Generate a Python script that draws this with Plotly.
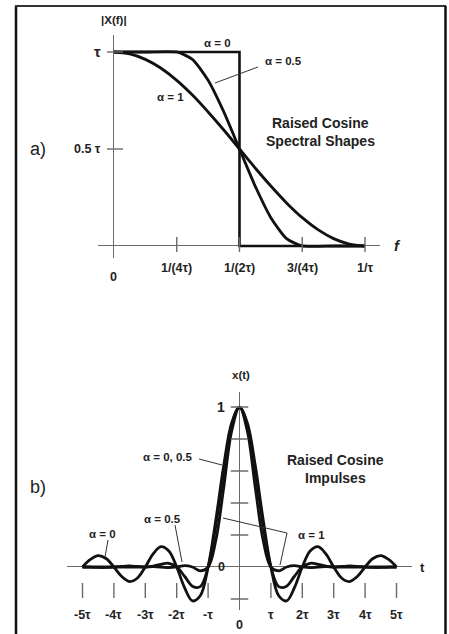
import plotly.graph_objects as go

# ---------------- data: panel a) spectra (f in units of 1/tau, |X(f)| in units of tau)
f_a0 = [0, 0.5, 0.5, 1.0]
X_a0 = [1, 1, 0, 0]

f_a05 = [0, 0.125, 0.25, 0.3125, 0.375, 0.4375, 0.5, 0.5625, 0.625, 0.6875, 0.75, 0.875, 1.0]
X_a05 = [1, 1, 1, 0.962, 0.854, 0.691, 0.5, 0.309, 0.146, 0.038, 0, 0, 0]

f_a1 = [0, 0.0625, 0.125, 0.1875, 0.25, 0.3125, 0.375, 0.4375, 0.5,
        0.5625, 0.625, 0.6875, 0.75, 0.8125, 0.875, 0.9375, 1.0]
X_a1 = [1, 0.990, 0.962, 0.916, 0.854, 0.778, 0.691, 0.598, 0.5,
        0.402, 0.309, 0.222, 0.146, 0.084, 0.038, 0.010, 0]

f_ticks = [0.25, 0.5, 0.75, 1.0]
f_tick_labels = ["1/(4τ)", "1/(2τ)", "3/(4τ)", "1/τ"]
X_ticks = [0.5, 1.0]
X_tick_labels = ["0.5 τ", "τ"]

# ---------------- data: panel b) impulses (t in units of tau)
t_vals = [-5, -4.75, -4.5, -4.25, -4, -3.75, -3.5, -3.25, -3, -2.75, -2.5, -2.25, -2,
          -1.75, -1.5, -1.25, -1, -0.75, -0.5, -0.25, 0, 0.25, 0.5, 0.75, 1, 1.25,
          1.5, 1.75, 2, 2.25, 2.5, 2.75, 3, 3.25, 3.5, 3.75, 4, 4.25, 4.5, 4.75, 5]
x_a0 = [0, 0.047, 0.071, 0.053, 0, -0.060, -0.091, -0.069, 0, 0.082, 0.127, 0.100, 0,
        -0.129, -0.212, -0.180, 0, 0.300, 0.637, 0.900, 1, 0.900, 0.637, 0.300, 0, -0.180,
        -0.212, -0.129, 0, 0.100, 0.127, 0.082, 0, -0.069, -0.091, -0.060, 0, 0.053, 0.071, 0.047, 0]
x_a05 = [0, -0.001, -0.003, -0.003, 0, 0.004, 0.006, 0.003, 0, 0.005, 0.017, 0.023, 0,
         -0.058, -0.120, -0.123, 0, 0.262, 0.600, 0.887, 1, 0.887, 0.600, 0.262, 0, -0.123,
         -0.120, -0.058, 0, 0.023, 0.017, 0.005, 0, 0.003, 0.006, 0.004, 0, -0.003, -0.003, -0.001, 0]
x_a1 = [0, 0, 0, 0, 0, 0, 0, 0, 0, 0.002, 0, -0.004, 0,
        0.008, 0, -0.024, 0, 0.170, 0.5, 0.849, 1, 0.849, 0.5, 0.170, 0, -0.024,
        0, 0.008, 0, -0.004, 0, 0.002, 0, 0, 0, 0, 0, 0, 0, 0, 0]

t_ticks = [-5, -4, -3, -2, -1, 1, 2, 3, 4, 5]
t_tick_labels = ["-5τ", "-4τ", "-3τ", "-2τ", "-τ", "τ", "2τ", "3τ", "4τ", "5τ"]
x_ticks = [-0.2, 0.2, 0.4, 0.6, 0.8, 1.0]

# ---------------- layout helpers (pixel -> paper)
W, H = 449, 634
def P(x):
    return x / W
def Q(y):
    return 1 - y / H

CURVE = dict(color="#111111", width=2.8)
AXC = "#6a6a6a"
FONT = "Liberation Sans, Arial, sans-serif"
TXT = "#222222"
TICK = 12.5
LBL = 11.5

fig = go.Figure()

# panel a curves
fig.add_trace(go.Scatter(x=f_a1, y=X_a1, mode="lines", line=dict(shape="spline", **CURVE),
                         xaxis="x", yaxis="y"))
fig.add_trace(go.Scatter(x=f_a05, y=X_a05, mode="lines", line=dict(shape="spline", smoothing=0.6, **CURVE),
                         xaxis="x", yaxis="y"))
fig.add_trace(go.Scatter(x=f_a0, y=X_a0, mode="lines", line=dict(color="#111111", width=2.6),
                         xaxis="x", yaxis="y"))

# panel b curves
for yy in (x_a1, x_a05, x_a0):
    fig.add_trace(go.Scatter(x=t_vals, y=yy, mode="lines", line=dict(shape="spline", **CURVE),
                             xaxis="x2", yaxis="y2"))

shapes = []
ann = []

def txt(x, y, s, size=10, xref="paper", yref="paper", xanchor="center", bold=True, color=TXT):
    ann.append(dict(x=x, y=y, xref=xref, yref=yref, text=("<b>%s</b>" % s) if bold else s,
                    showarrow=False, xanchor=xanchor, yanchor="middle",
                    font=dict(family=FONT, size=size, color=color)))

def seg(x0, y0, x1, y1, xref="paper", yref="paper", color=AXC, width=1.4):
    shapes.append(dict(type="line", x0=x0, y0=y0, x1=x1, y1=y1, xref=xref, yref=yref,
                       line=dict(color=color, width=width)))

# frame
seg(P(16), Q(6), P(16), Q(640), color="#111", width=2.5)
seg(P(15), Q(6), P(446), Q(6), color="#333", width=2)
seg(P(445.5), Q(6), P(445.5), Q(640), color="#111", width=2.5)

# panel a ticks and labels
for v, lab in zip(f_ticks, f_tick_labels):
    seg(v, -0.031, v, 0.046, xref="x", yref="y")
    txt(v, Q(268), lab, size=TICK, xref="x")
txt(0, Q(277), "0", size=TICK, xref="x")
for v, lab in zip(X_ticks, X_tick_labels):
    seg(-0.028, v, 0.036, v, xref="x", yref="y")
    txt(-0.042, v, lab, size=(15 if lab == "τ" else TICK), xref="x", yref="y", xanchor="right")
txt(-0.09, 0, "0", size=TICK, xref="x", yref="y", xanchor="right")
txt(P(114), Q(20), "|X(f)|", size=LBL)
txt(P(397), Q(245), "<i>f</i>", size=15)
txt(P(38), Q(149), "a)", size=18, bold=False)
txt(P(217), Q(43), "α = 0", size=LBL)
txt(P(283), Q(61), "α = 0.5", size=LBL)
seg(P(258), Q(67), P(215), Q(83), color="#333", width=1)
txt(P(170), Q(97), "α = 1", size=LBL)
txt(P(320), Q(123), "Raised Cosine", size=14)
txt(P(320), Q(141), "Spectral Shapes", size=14)

# panel b ticks and labels
for v, lab in zip(t_ticks, t_tick_labels):
    seg(v, -0.1, v, -0.194, xref="x2", yref="y2")
    txt(v, Q(615), lab, size=TICK, xref="x2")
txt(0, Q(625), "0", size=TICK, xref="x2")
for v in x_ticks:
    seg(-0.28, v, 0.28, v, xref="x2", yref="y2")
txt(-0.56, 0, "0", size=TICK, xref="x2", yref="y2")
txt(-0.6, 1, "1", size=14, xref="x2", yref="y2")
txt(P(241), Q(375), "x(t)", size=LBL)
txt(P(422), Q(567), "t", size=13)
txt(P(38), Q(487), "b)", size=18, bold=False)
txt(P(168), Q(457), "α = 0, 0.5", size=LBL)
seg(P(199), Q(459), P(222), Q(465), color="#333", width=1)
txt(P(162), Q(519), "α = 0.5", size=LBL)
seg(P(175), Q(525), P(182), Q(562), color="#333", width=1)
txt(P(102), Q(534), "α = 0", size=LBL)
seg(P(108), Q(540), P(105), Q(557), color="#333", width=1)
txt(P(311), Q(535), "α = 1", size=LBL)
seg(P(223), Q(518), P(287), Q(533), color="#333", width=1)
seg(P(287), Q(533), P(280), Q(565), color="#333", width=1)
txt(P(335), Q(460), "Raised Cosine", size=14)
txt(P(335), Q(478), "Impulses", size=14)

ax_common = dict(showgrid=False, showticklabels=False, ticks="", showline=False,
                 zeroline=True, zerolinecolor=AXC, zerolinewidth=1.4, fixedrange=True)

fig.update_layout(
    width=W, height=H, margin=dict(l=0, r=0, t=0, b=0),
    paper_bgcolor="white", plot_bgcolor="rgba(0,0,0,0)", showlegend=False,
    xaxis=dict(domain=[P(98), P(380)], range=[-0.0637, 1.0598], anchor="y", **ax_common),
    yaxis=dict(domain=[Q(258), Q(35)], range=[-0.0619, 1.0876], anchor="x", **ax_common),
    xaxis2=dict(domain=[P(66.8), P(412.2)], range=[-5.5, 5.5], anchor="y2", **ax_common),
    yaxis2=dict(domain=[Q(610), Q(392)], range=[-0.269, 1.094], anchor="x2", **ax_common),
    shapes=shapes, annotations=ann,
)

fig.write_html("out.html", config={"displayModeBar": False},
               post_script="document.body.style.margin='0';document.body.style.overflow='hidden';")
